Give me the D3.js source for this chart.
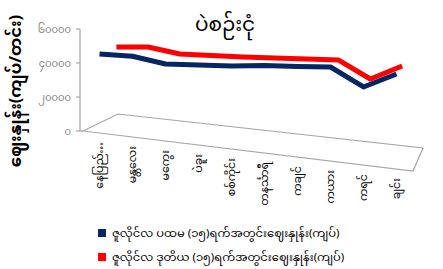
<!DOCTYPE html>
<html>
<head>
<meta charset="utf-8">
<script src="https://cdn.jsdelivr.net/npm/d3@7"></script>
<style>
  body { margin: 0; background: #fff; }
  svg { display: block; font-family: "Noto Sans Myanmar", "Padauk", "Myanmar Text", "Noto Sans", sans-serif; }
</style>
</head>
<body>
<svg id="chart" width="443" height="269"></svg>
<script>
// Pigeon pea prices by region, two half-month periods (3D line look)

const categories = ["နေပြည်…", "မန္တလေး", "မကွေး", "ပဲခူး", "စစ်ကိုင်း", "တနင်္သာရီ", "ကချင်", "ကယား", "ကရင်", "ချင်း"];
const firstHalf = [46500, 47500, 45300, 47000, 48800, 51500, 53200, 55300, 45900, 55900];
const secondHalf = [47200, 49400, 47400, 48700, 50100, 51700, 53400, 55000, 45700, 55900];
const yTicks = [0, 20000, 40000, 60000];
const yTickLabels = ["၀", "၂၀၀၀၀", "၄၀၀၀၀", "၆၀၀၀၀"];
const seriesNames = [
    "ဇူလိုင်လ ပထမ (၁၅)ရက်အတွင်းဈေးနှုန်း(ကျပ်)",
    "ဇူလိုင်လ ဒုတိယ (၁၅)ရက်အတွင်းဈေးနှုန်း(ကျပ်)"
];
const seriesColors = ["#062563", "#ff0000"];

const svg = d3.select("#chart");

// floor corners of the 3D plot area
const fl = [83, 131], fr = [413, 171], bl = [118, 114], br = [423, 148];

const xFront = d3.scaleBand().domain(categories).range([fl[0], fr[0]]);
const xBack = d3.scaleBand().domain(categories).range([bl[0], br[0]]);
const floorFront = d3.scaleLinear().domain([fl[0], fr[0]]).range([fl[1], fr[1]]);
const floorBack = d3.scaleLinear().domain([bl[0], br[0]]).range([bl[1], br[1]]);
const y = d3.scaleLinear().domain([0, 60000]).range([131, 29]);

function project(cat, depth, v) {
    const fx = xFront(cat) + xFront.bandwidth() / 2;
    const bx = xBack(cat) + xBack.bandwidth() / 2;
    const px = fx + (bx - fx) * depth;
    const fy = floorFront(fx) + (floorBack(bx) - floorFront(fx)) * depth;
    const h = (y(0) - y(v)) * (1 - 0.07 * depth);
    return [px, fy - h];
}

// title
svg.append("text")
    .attr("x", 225).attr("y", 31)
    .attr("text-anchor", "middle")
    .attr("font-size", 20)
    .attr("fill", "#000")
    .text("ပဲစဉ်းငုံ");

// y axis title
svg.append("text")
    .attr("transform", "translate(21,91) rotate(-90)")
    .attr("text-anchor", "middle")
    .attr("font-size", 16.5)
    .attr("font-weight", "bold")
    .attr("fill", "#000")
    .text("ဈေးနှုန်း(ကျပ်/တင်း)");

// floor
svg.append("path")
    .attr("d", `M${fl}L${bl}L${br}L${fr}Z`)
    .attr("fill", "none")
    .attr("stroke", "#a6a6a6")
    .attr("stroke-width", 1.2);

// value axis
const axisX = 80;
svg.append("line")
    .attr("x1", axisX).attr("x2", axisX)
    .attr("y1", y(60000)).attr("y2", y(0))
    .attr("stroke", "#a6a6a6").attr("stroke-width", 1.2);
svg.append("line")
    .attr("x1", axisX).attr("x2", fl[0])
    .attr("y1", y(0)).attr("y2", fl[1])
    .attr("stroke", "#a6a6a6").attr("stroke-width", 1.2);

const ticks = svg.append("g");
yTicks.forEach((t, i) => {
    ticks.append("line")
        .attr("x1", axisX - 4).attr("x2", axisX)
        .attr("y1", y(t)).attr("y2", y(t))
        .attr("stroke", "#a6a6a6").attr("stroke-width", 1.2);
    ticks.append("text")
        .attr("x", axisX - 9).attr("y", y(t) + 4)
        .attr("text-anchor", "end")
        .attr("font-size", 10)
        .attr("fill", "#7f7f7f")
        .text(yTickLabels[i]);
});

// category labels along the front edge, rotated
categories.forEach(c => {
    const cx = xFront(c) + xFront.bandwidth() / 2;
    const ey = floorFront(cx) + 9;
    svg.append("text")
        .attr("transform", `translate(${cx + 3},${ey}) rotate(-90)`)
        .attr("text-anchor", "end")
        .attr("font-size", 11)
        .attr("fill", "#000")
        .text(c);
});

// ribbons: second half sits further back, draw it first
const series = [
    { values: secondHalf, depth: 0.5, color: seriesColors[1] },
    { values: firstHalf, depth: 0.0, color: seriesColors[0] }
];
const line = d3.line();
series.forEach(s => {
    const pts = categories.map((c, i) => project(c, s.depth, s.values[i]));
    svg.append("path")
        .attr("d", line(pts))
        .attr("fill", "none")
        .attr("stroke", s.color)
        .attr("stroke-width", 5)
        .attr("stroke-linejoin", "round");
});

// legend
const legend = svg.append("g");
seriesNames.forEach((name, i) => {
    const ly = 233 + i * 24;
    legend.append("rect")
        .attr("x", 98).attr("y", ly - 4)
        .attr("width", 8).attr("height", 8)
        .attr("fill", seriesColors[i]);
    legend.append("text")
        .attr("x", 112).attr("y", ly + 4)
        .attr("font-size", 11.5)
        .attr("fill", "#000")
        .text(name);
});
</script>
</body>
</html>
